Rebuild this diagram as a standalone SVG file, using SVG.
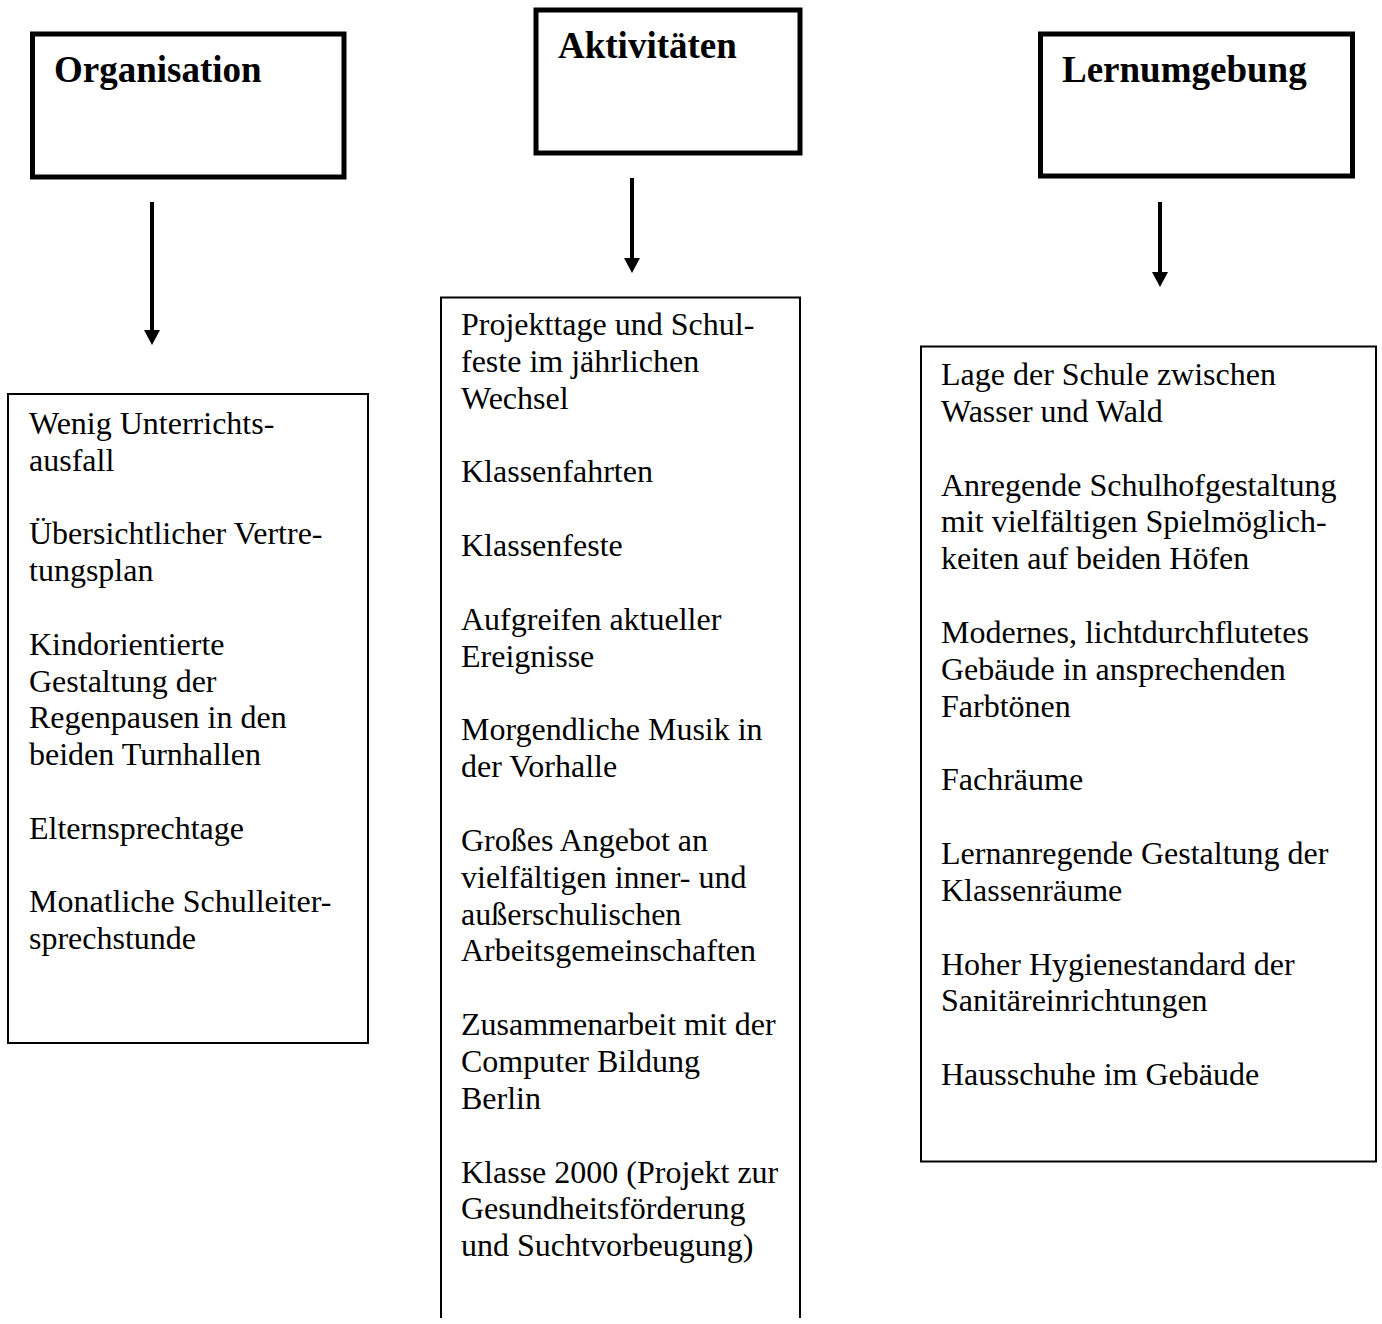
<svg xmlns="http://www.w3.org/2000/svg" width="1382" height="1324" viewBox="0 0 1382 1324">
<style>
.hbox{fill:#fff;stroke:#000;stroke-width:5}
.lbox{fill:#fff;stroke:#000;stroke-width:2}
.h{font-family:"Liberation Serif","Times New Roman",serif;font-weight:bold;font-size:37px;fill:#000}
.t{font-family:"Liberation Serif","Times New Roman",serif;font-size:32px;fill:#000}
.c{stroke:#000;stroke-width:4;fill:none}
</style>
<defs>
<marker id="ah" markerUnits="userSpaceOnUse" markerWidth="16" markerHeight="16" refX="0" refY="8" orient="auto" viewBox="0 0 16 16">
<path d="M0,0 L15,8 L0,16 Z" fill="#000"/>
</marker>
</defs>
<rect width="1382" height="1324" fill="#fff"/>
<g id="organisation">
<rect class="hbox" x="32.5" y="34" width="311.5" height="143"/>
<text class="h" x="54" y="82">Organisation</text>
</g>
<g id="aktivitaeten">
<rect class="hbox" x="536" y="10" width="264" height="143"/>
<text class="h" x="558" y="58">Aktivitäten</text>
</g>
<g id="lernumgebung">
<rect class="hbox" x="1040.5" y="34" width="312" height="142"/>
<text class="h" x="1062" y="82">Lernumgebung</text>
</g>
<g id="connectors">
<line class="c" x1="152" y1="202" x2="152" y2="330" marker-end="url(#ah)"/>
<line class="c" x1="632" y1="178" x2="632" y2="258" marker-end="url(#ah)"/>
<line class="c" x1="1160" y1="202" x2="1160" y2="272" marker-end="url(#ah)"/>
</g>
<g id="organisation-list">
<rect class="lbox" x="8" y="394" width="360" height="649"/>
<text class="t" x="29">
<tspan x="29" y="434">Wenig Unterrichts-</tspan>
<tspan x="29" y="470.8">ausfall</tspan>
<tspan x="29" y="544.4">Übersichtlicher Vertre-</tspan>
<tspan x="29" y="581.2">tungsplan</tspan>
<tspan x="29" y="654.8">Kindorientierte</tspan>
<tspan x="29" y="691.6">Gestaltung der</tspan>
<tspan x="29" y="728.4">Regenpausen in den</tspan>
<tspan x="29" y="765.2">beiden Turnhallen</tspan>
<tspan x="29" y="838.8">Elternsprechtage</tspan>
<tspan x="29" y="912.4">Monatliche Schulleiter-</tspan>
<tspan x="29" y="949.2">sprechstunde</tspan>
</text>
</g>
<g id="aktivitaeten-list">
<path class="lbox" fill="none" d="M441,1318 L441,297.5 L800,297.5 L800,1318" style="fill:none"/>
<text class="t">
<tspan x="461" y="335">Projekttage und Schul-</tspan>
<tspan x="461" y="371.85">feste im jährlichen</tspan>
<tspan x="461" y="408.7">Wechsel</tspan>
<tspan x="461" y="482.4">Klassenfahrten</tspan>
<tspan x="461" y="556.1">Klassenfeste</tspan>
<tspan x="461" y="629.8">Aufgreifen aktueller</tspan>
<tspan x="461" y="666.65">Ereignisse</tspan>
<tspan x="461" y="740.35">Morgendliche Musik in</tspan>
<tspan x="461" y="777.2">der Vorhalle</tspan>
<tspan x="461" y="850.9">Großes Angebot an</tspan>
<tspan x="461" y="887.75">vielfältigen inner- und</tspan>
<tspan x="461" y="924.6">außerschulischen</tspan>
<tspan x="461" y="961.45">Arbeitsgemeinschaften</tspan>
<tspan x="461" y="1035.15">Zusammenarbeit mit der</tspan>
<tspan x="461" y="1072">Computer Bildung</tspan>
<tspan x="461" y="1108.85">Berlin</tspan>
<tspan x="461" y="1182.55">Klasse 2000 (Projekt zur</tspan>
<tspan x="461" y="1219.4">Gesundheitsförderung</tspan>
<tspan x="461" y="1256.25">und Suchtvorbeugung)</tspan>
</text>
</g>
<g id="lernumgebung-list">
<rect class="lbox" x="921" y="346.5" width="455" height="815"/>
<text class="t">
<tspan x="941" y="385">Lage der Schule zwischen</tspan>
<tspan x="941" y="421.85">Wasser und Wald</tspan>
<tspan x="941" y="495.55">Anregende Schulhofgestaltung</tspan>
<tspan x="941" y="532.4">mit vielfältigen Spielmöglich-</tspan>
<tspan x="941" y="569.25">keiten auf beiden Höfen</tspan>
<tspan x="941" y="642.95">Modernes, lichtdurchflutetes</tspan>
<tspan x="941" y="679.8">Gebäude in ansprechenden</tspan>
<tspan x="941" y="716.65">Farbtönen</tspan>
<tspan x="941" y="790.35">Fachräume</tspan>
<tspan x="941" y="864.05">Lernanregende Gestaltung der</tspan>
<tspan x="941" y="900.9">Klassenräume</tspan>
<tspan x="941" y="974.6">Hoher Hygienestandard der</tspan>
<tspan x="941" y="1011.45">Sanitäreinrichtungen</tspan>
<tspan x="941" y="1085.15">Hausschuhe im Gebäude</tspan>
</text>
</g>
</svg>
